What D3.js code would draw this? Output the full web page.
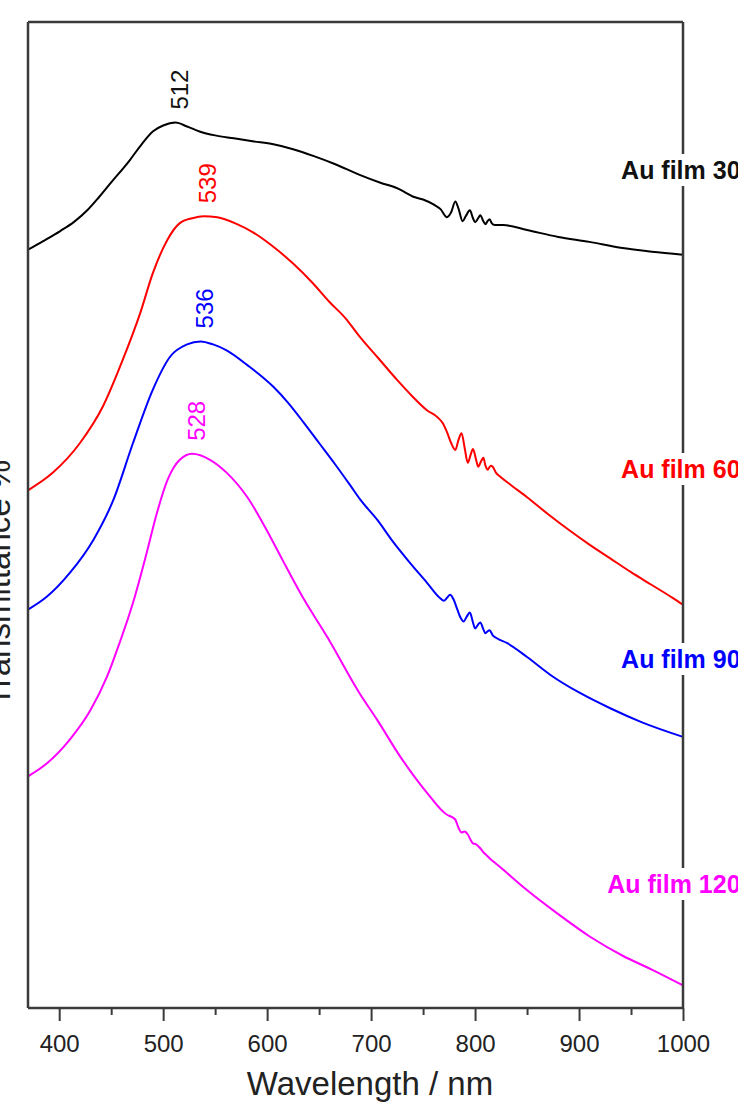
<!DOCTYPE html>
<html>
<head>
<meta charset="utf-8">
<script src="https://cdn.jsdelivr.net/npm/d3@7"></script>
<style>
  html, body { margin: 0; padding: 0; background: #fff; overflow: hidden; }
  svg { display: block; font-family: "Liberation Sans", Arial, sans-serif; }
</style>
</head>
<body>
<svg id="chart" width="738" height="1102"></svg>
<script>
// ---- data ----
const seriesNames = ["Au film 30 nm", "Au film 60 nm", "Au film 90 nm", "Au film 120 nm"];
const seriesColors = ["#000000", "#ff0000", "#0000ff", "#ff00ff"];
const peakLabels = ["512", "539", "536", "528"];
const peakWavelengths = [512, 539, 536, 528];

const film30 = [
  [370,76.9],[385,77.8],[401,78.8],[414,79.7],[427,80.9],[438,82.2],[449,83.6],[468,86.0],[480,87.7],[490,88.9],
  [500,89.5],[512,89.8],[523,89.4],[535,88.9],[550,88.5],[568,88.2],[586,87.9],[606,87.6],[625,87.1],[645,86.4],
  [665,85.6],[689,84.5],[709,83.7],[726,83.1],[733,82.7],[740,82.3],[750,82.0],[760,81.5],[767,81.0],[773,80.2],
  [777,80.7],[781,81.8],[784,81.1],[788,79.8],[791,80.3],[795,80.9],[798,80.1],[800,79.7],[803,80.1],[805,80.4],
  [808,79.8],[810,79.5],[812,79.8],[814,80.0],[816,79.6],[819,79.4],[827,79.4],[850,78.9],[880,78.2],[910,77.7],
  [940,77.1],[970,76.7],[1000,76.4]
];
const film60 = [
  [370,52.5],[394,54.3],[420,57.3],[442,61.0],[461,65.7],[478,70.5],[490,74.5],[504,77.9],[516,79.6],[528,80.1],
  [539,80.3],[552,80.2],[571,79.5],[586,78.7],[606,77.2],[625,75.5],[644,73.5],[660,71.6],[675,70.0],[689,68.1],
  [707,65.9],[725,63.7],[740,62.0],[754,60.6],[764,59.9],[769,59.3],[773,58.4],[777,57.3],[781,56.6],[784,57.6],
  [787,58.3],[790,56.8],[793,55.3],[796,56.2],[798,56.7],[801,55.6],[803,54.9],[806,55.5],[808,55.8],[810,55.0],
  [812,54.6],[815,55.0],[817,54.9],[820,54.3],[824,53.9],[835,53.0],[850,51.8],[870,50.1],[890,48.5],[910,47.0],
  [930,45.6],[950,44.2],[970,42.9],[990,41.6],[1000,40.9]
];
const film90 = [
  [370,40.4],[388,41.7],[410,44.1],[433,47.5],[452,51.5],[471,57.3],[490,62.7],[507,66.1],[523,67.3],[536,67.6],
  [548,67.3],[561,66.7],[581,65.2],[606,63.0],[620,61.4],[635,59.4],[650,57.3],[665,55.2],[680,53.0],[690,51.5],
  [706,49.5],[721,47.3],[737,45.2],[754,43.1],[766,41.6],[770,41.3],[773,41.6],[776,41.9],[779,41.5],[783,40.4],
  [786,39.6],[789,39.2],[792,39.7],[795,40.1],[798,39.1],[800,38.5],[803,38.9],[805,39.1],[808,38.4],[810,38.0],
  [812,38.2],[814,38.3],[817,37.8],[821,37.5],[831,37.0],[850,35.6],[875,33.6],[900,32.0],[930,30.4],[960,29.0],
  [1000,27.5]
];
const film120 = [
  [370,23.5],[388,24.8],[410,27.2],[430,30.2],[446,33.6],[458,37.0],[471,41.1],[484,46.1],[494,50.2],[504,53.5],
  [516,55.6],[528,56.2],[545,55.6],[561,54.3],[581,51.8],[603,47.8],[615,45.4],[634,41.7],[658,37.6],[689,31.9],
  [706,29.2],[728,25.5],[754,21.8],[773,19.6],[777,19.4],[781,19.1],[784,18.3],[787,17.8],[790,17.9],[793,17.6],
  [796,17.0],[798,16.7],[801,16.6],[805,16.2],[808,15.8],[811,15.5],[817,14.9],[824,14.3],[846,12.3],[879,9.6],
  [911,7.2],[942,5.3],[970,3.9],[1000,2.3]
];
const seriesData = [film30, film60, film90, film120];

const xMajorTicks = [400, 500, 600, 700, 800, 900, 1000];
const xMinorTicks = [450, 550, 650, 750, 850, 950];
const xTitle = "Wavelength / nm";
const yTitle = "Transmittance %";

// ---- layout ----
const W = 738, H = 1102;
const m = { left: 28, right: 55, top: 22, bottom: 94 };
const svg = d3.select("#chart");

const x = d3.scaleLinear().domain([370, 1000]).range([m.left, W - m.right]);
const y = d3.scaleLinear().domain([0, 100]).range([H - m.bottom, m.top]);

const frameColor = "#3a3a3a";

// lines
const line = d3.line().x(d => x(d[0])).y(d => y(d[1])).curve(d3.curveMonotoneX);
svg.append("g").selectAll("path")
  .data(seriesData)
  .join("path")
  .attr("d", line)
  .attr("fill", "none")
  .attr("stroke", (d, i) => seriesColors[i])
  .attr("stroke-width", 2)
  .attr("stroke-linejoin", "round");

// peak labels (rotated)
const peakVal = (arr, wl) => {
  let best = arr[0];
  arr.forEach(p => { if (Math.abs(p[0] - wl) < Math.abs(best[0] - wl)) best = p; });
  return best[1];
};
svg.append("g").selectAll("text")
  .data(peakLabels)
  .join("text")
  .attr("transform", (d, i) => {
    const px = x(peakWavelengths[i]) + 4;
    const py = y(peakVal(seriesData[i], peakWavelengths[i])) - 13;
    return `translate(${px},${py}) rotate(-90)`;
  })
  .attr("dominant-baseline", "central")
  .attr("text-anchor", "start")
  .attr("font-size", 24)
  .attr("fill", (d, i) => seriesColors[i] === "#000000" ? "#111" : seriesColors[i])
  .text(d => d);

// frame
const g = svg.append("g");
g.append("line").attr("x1", m.left).attr("x2", W - m.right).attr("y1", m.top).attr("y2", m.top)
  .attr("stroke", frameColor).attr("stroke-width", 2.5);
g.append("line").attr("x1", m.left).attr("x2", m.left).attr("y1", m.top).attr("y2", H - m.bottom)
  .attr("stroke", frameColor).attr("stroke-width", 2.5);
g.append("line").attr("x1", W - m.right).attr("x2", W - m.right).attr("y1", m.top).attr("y2", H - m.bottom)
  .attr("stroke", frameColor).attr("stroke-width", 2.5);

// bottom axis (major + minor)
const axMajor = d3.axisBottom(x).tickValues(xMajorTicks).tickSize(13).tickPadding(14).tickFormat(d3.format("d"));
const gx = svg.append("g").attr("transform", `translate(0,${H - m.bottom})`).call(axMajor);
gx.select(".domain").attr("stroke", frameColor).attr("stroke-width", 2.5).attr("d", `M${m.left},0H${W - m.right}`);
gx.selectAll(".tick line").attr("stroke", frameColor).attr("stroke-width", 2);
gx.selectAll(".tick text").attr("font-size", 24).attr("fill", "#222").attr("font-family", "Liberation Sans, Arial, sans-serif");

const axMinor = d3.axisBottom(x).tickValues(xMinorTicks).tickSize(7).tickFormat("");
const gm = svg.append("g").attr("transform", `translate(0,${H - m.bottom})`).call(axMinor);
gm.select(".domain").remove();
gm.selectAll(".tick line").attr("stroke", frameColor).attr("stroke-width", 2);

// axis titles
svg.append("text")
  .attr("x", 370)
  .attr("y", 1095)
  .attr("text-anchor", "middle")
  .attr("font-size", 33)
  .attr("fill", "#222")
  .text(xTitle);

svg.append("text")
  .attr("transform", `translate(10,583) rotate(-90)`)
  .attr("text-anchor", "middle")
  .attr("font-size", 33)
  .attr("fill", "#222")
  .text(yTitle);

// series labels at right, overlapping right axis with white background
const labelY = [179, 478, 668, 893];
const lg = svg.append("g");
seriesNames.forEach((name, i) => {
  const t = lg.append("text")
    .attr("x", 785)
    .attr("y", labelY[i])
    .attr("text-anchor", "end")
    .attr("font-size", 25)
    .attr("font-weight", "bold")
    .attr("fill", seriesColors[i] === "#000000" ? "#111" : seriesColors[i])
    .text(name);
  const bb = t.node().getBBox();
  lg.insert("rect", () => t.node())
    .attr("x", bb.x - 2)
    .attr("y", bb.y - 2)
    .attr("width", bb.width + 4)
    .attr("height", bb.height + 4)
    .attr("fill", "#fff");
});
</script>
</body>
</html>
